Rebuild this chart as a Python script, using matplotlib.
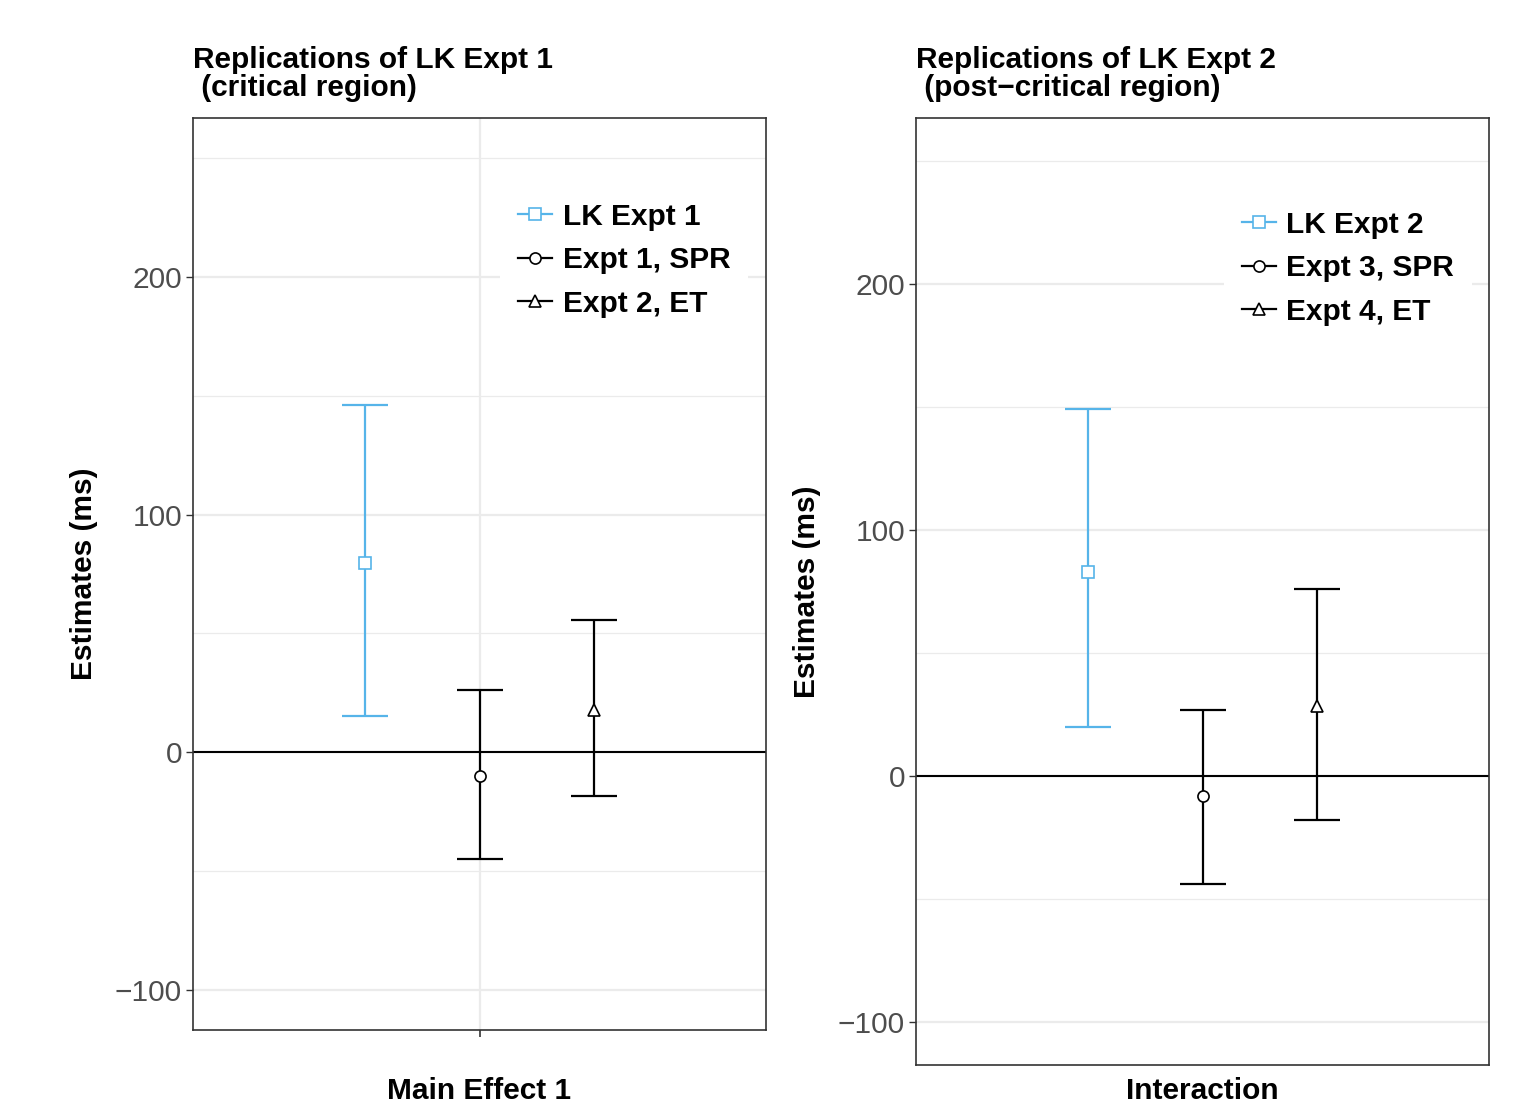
import numpy as np
import matplotlib.pyplot as plt
from matplotlib.lines import Line2D

# ======================== data ==========================
labels_left = ['LK Expt 1', 'Expt 1, SPR', 'Expt 2, ET']
mean_left = [79.6, -10.1, 17.7]
lower_left = [15.2, -45.0, -18.5]
upper_left = [146.1, 26.1, 55.6]

labels_right = ['LK Expt 2', 'Expt 3, SPR', 'Expt 4, ET']
mean_right = [82.9, -8.1, 28.5]
lower_right = [19.9, -43.9, -17.9]
upper_right = [149.2, 26.8, 76.0]

titles = ['Replications of LK Expt 1\n (critical region)',
          'Replications of LK Expt 2\n (post\u2212critical region)']
xlabels = ['Main Effect 1', 'Interaction']

# ======================== style ==========================
plt.rcParams['font.family'] = ['Liberation Sans', 'DejaVu Sans']
colors = ['#56B4E9', 'black', 'black']
markers = ['s', 'o', '^']
offsets = [-0.24, 0.0, 0.24]
fs = 21.5
W, H = 1514, 1107

fig = plt.figure(figsize=(W / 100, H / 100), dpi=100)


def px_axes(x0, y0, x1, y1):
    return fig.add_axes([x0 / W, 1 - y1 / H, (x1 - x0) / W, (y1 - y0) / H])


panels = [
    dict(ax=px_axes(193, 118, 766, 1030), ylim=(-117, 267), labels=labels_left,
         mean=mean_left, lo=lower_left, hi=upper_left, vgrid=True,
         leg=(0.51, 0.943), xc=479),
    dict(ax=px_axes(916, 118, 1489, 1065), ylim=(-117.5, 267.5), labels=labels_right,
         mean=mean_right, lo=lower_right, hi=upper_right, vgrid=False,
         leg=(0.511, 0.937), xc=1202),
]

for i, p in enumerate(panels):
    ax = p['ax']
    ax.set_xlim(0.4, 1.6)
    ax.set_ylim(*p['ylim'])

    # grid
    for y in [-100, 0, 100, 200]:
        ax.axhline(y, color='#EBEBEB', lw=1.6, zorder=0)
    for y in [-50, 50, 150, 250]:
        ax.axhline(y, color='#EBEBEB', lw=0.9, zorder=0)
    if p['vgrid']:
        ax.axvline(1, color='#EBEBEB', lw=1.6, zorder=0)
    ax.axhline(0, color='black', lw=1.5, zorder=1)

    handles = []
    for j in range(3):
        x = 1 + offsets[j]
        m = p['mean'][j]
        ax.errorbar(x, m, yerr=[[m - p['lo'][j]], [p['hi'][j] - m]],
                    color=colors[j], lw=1.6, capsize=16.5, capthick=1.6,
                    fmt='none', zorder=3)
        ax.plot(x, m, marker=markers[j], ms=8, mfc='white', mec=colors[j],
                mew=1.2, ls='none', zorder=4)
        handles.append(Line2D([], [], color=colors[j], lw=1.6, marker=markers[j],
                              ms=8, mfc='white', mec=colors[j], mew=1.2))

    leg = ax.legend(handles, p['labels'], loc='upper left',
                    bbox_to_anchor=p['leg'], frameon=True, fancybox=False,
                    edgecolor='none', facecolor='white', framealpha=1,
                    prop=dict(size=fs, weight='bold'), handlelength=1.15,
                    handletextpad=0.35, labelspacing=0.52, borderpad=0.6)
    leg.set_zorder(5)

    ax.set_yticks([-100, 0, 100, 200])
    ax.set_yticklabels(['\u2212100', '0', '100', '200'])
    ax.tick_params(axis='y', labelsize=fs, labelcolor='#4D4D4D', color='#333333',
                   length=5, width=1, pad=3)
    if p['vgrid']:
        ax.set_xticks([1])
        ax.set_xticklabels([''])
        ax.tick_params(axis='x', color='#333333', length=5, width=1.2)
    else:
        ax.set_xticks([])

    for s in ax.spines.values():
        s.set_color('#333333')
        s.set_linewidth(1.2)

    ax.set_ylabel('Estimates (ms)', fontsize=fs, fontweight='bold', labelpad=12)
    fig.text(p['xc'] / W, 1 - 1091 / H, xlabels[i], fontsize=fs,
             fontweight='bold', ha='center', va='center')
    ax.set_title(titles[i], loc='left', fontsize=fs, fontweight='bold',
                 pad=16, linespacing=1.0)

fig.savefig('out.png', dpi=100)
